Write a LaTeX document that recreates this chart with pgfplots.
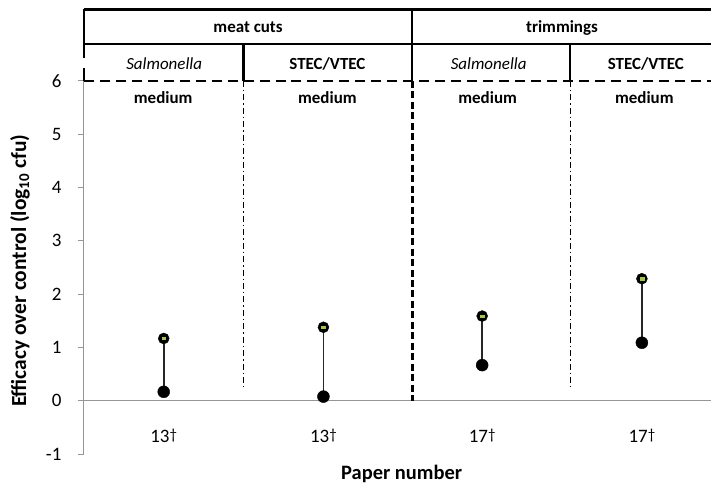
\documentclass[border=0pt]{standalone}
\usepackage{pgfplots}
\pgfplotsset{compat=1.18}
\usepackage{pgfplotstable}
\usepackage{fontspec}
\setmainfont{Carlito}
\definecolor{axgray}{RGB}{150,150,150}
\definecolor{ygreen}{RGB}{165,200,60}
\newcommand\dg{\raisebox{0.15em}{\fontsize{15bp}{18bp}\selectfont †}}
\pgfplotstableread{
x low high
164 0.17 1.17
324 0.08 1.38
483 0.67 1.59
643 1.09 2.29
}\datatab
\begin{document}
\begin{tikzpicture}
\begin{axis}[
  scale only axis, width=628bp, height=374bp,
  xmin=84, xmax=712, ymin=-1, ymax=6,
  axis x line*=middle, axis y line*=left,
  axis line style={axgray, line width=1bp},
  clip=false,
  xtick={164,324,483,643},
  xticklabels={13\dg,13\dg,17\dg,17\dg},
  xtick style={draw=none},
  ytick={-1,0,1,2,3,4,5,6},
  ytick style={axgray, line width=1bp},
  tick align=outside, major tick length=6bp,
  tick label style={font=\fontsize{19bp}{23bp}\selectfont},
  /pgf/number format/assume math mode=true,
  xticklabel style={anchor=base, yshift=-36bp},
  yticklabel style={xshift=-13bp},
  xlabel={Paper number},
  ylabel={Efficacy over control (log\textsubscript{10} cfu)},
  label style={font=\bfseries\fontsize{20.5bp}{24bp}\selectfont},
  xlabel style={at={(axis description cs:0.507,-0.0669)}, anchor=base},
  ylabel style={at={(axis description cs:-0.1019,0.4914)}, anchor=center, font=\bfseries\fontsize{21.5bp}{24bp}\selectfont},
]
% invisible frame fixing the picture size
\path (axis cs:0,7.516) rectangle (axis cs:712,-1.580);
% connectors
\addplot[black!85, line width=1.8bp] coordinates {(164,0.17) (164,1.17)};
\addplot[black!85, line width=1.8bp] coordinates {(324,0.08) (324,1.38)};
\addplot[black!85, line width=1.8bp] coordinates {(483,0.67) (483,1.59)};
\addplot[black!85, line width=1.8bp] coordinates {(643,1.09) (643,2.29)};
% markers
\addplot[only marks, mark=*, mark size=6bp, mark options={fill=black, draw=black}] table[x=x, y=low] {\datatab};
\addplot[only marks, mark=*, mark size=5.5bp, mark options={fill=black, draw=black}] table[x=x, y=high] {\datatab};
\addplot[only marks, mark=square*, mark size=1.1bp, mark options={fill=ygreen, draw=ygreen, xscale=1.8}] table[x=x, y=high] {\datatab};
% header frame
\draw[line width=2.2bp] (axis cs:84,7.338) -- (axis cs:712,7.338);
\draw[line width=2.2bp] (axis cs:84,6.692) -- (axis cs:712,6.692);
\draw[line width=2.5bp, dash pattern=on 10bp off 6bp] (axis cs:84,6) -- (axis cs:712,6);
\draw[line width=2.2bp] (axis cs:84,7.338) -- (axis cs:84,6.43);
\draw[line width=2.2bp] (axis cs:84,6.243) -- (axis cs:84,6);
\draw[line width=2.2bp] (axis cs:413,7.338) -- (axis cs:413,6);
\draw[line width=2.2bp] (axis cs:244,6.692) -- (axis cs:244,6);
\draw[line width=2.2bp] (axis cs:571,6.692) -- (axis cs:571,6);
\draw[line width=2.6bp, dash pattern=on 7bp off 3.5bp] (axis cs:413,6) -- (axis cs:413,0);
\draw[line width=0.9bp, dash pattern=on 6bp off 3bp on 1.5bp off 3bp] (axis cs:244,6) -- (axis cs:244,0.254);
\draw[line width=0.9bp, dash pattern=on 6bp off 3bp on 1.5bp off 3bp] (axis cs:571,6) -- (axis cs:571,0.254);
% header texts
\begin{scope}[every node/.style={anchor=base, inner sep=0pt}]
\node[font=\bfseries\fontsize{17bp}{20bp}\selectfont] at (axis cs:248.5,6.898) {meat cuts};
\node[font=\bfseries\fontsize{17bp}{20bp}\selectfont] at (axis cs:563,6.898) {trimmings};
\node[font=\itshape\fontsize{17bp}{20bp}\selectfont] at (axis cs:164.5,6.206) {Salmonella};
\node[font=\bfseries\fontsize{17bp}{20bp}\selectfont] at (axis cs:328,6.206) {STEC/VTEC};
\node[font=\itshape\fontsize{17bp}{20bp}\selectfont] at (axis cs:489.5,6.206) {Salmonella};
\node[font=\bfseries\fontsize{17bp}{20bp}\selectfont] at (axis cs:647,6.206) {STEC/VTEC};
\node[font=\bfseries\fontsize{17bp}{20bp}\selectfont] at (axis cs:163.5,5.57) {medium};
\node[font=\bfseries\fontsize{17bp}{20bp}\selectfont] at (axis cs:328,5.57) {medium};
\node[font=\bfseries\fontsize{17bp}{20bp}\selectfont] at (axis cs:488.5,5.57) {medium};
\node[font=\bfseries\fontsize{17bp}{20bp}\selectfont] at (axis cs:645.5,5.57) {medium};
\end{scope}
\end{axis}
\end{tikzpicture}
\end{document}
